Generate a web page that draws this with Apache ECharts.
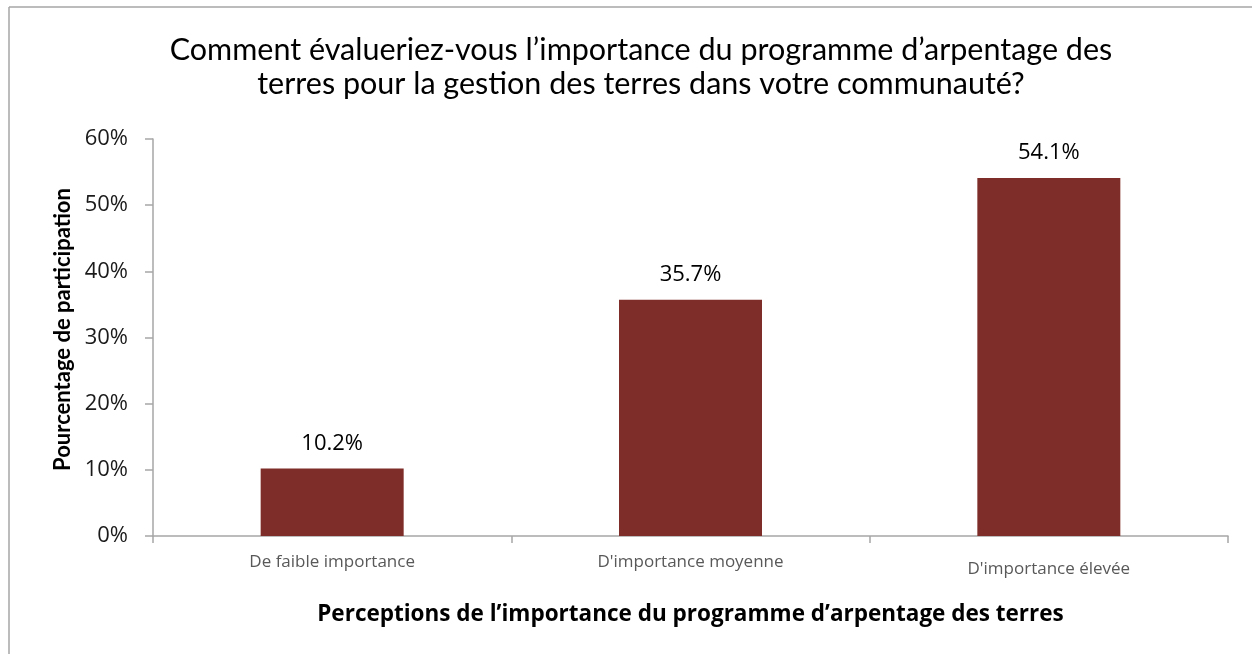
<!DOCTYPE html>
<html>
<head>
<meta charset="utf-8">
<script src="https://cdn.jsdelivr.net/npm/echarts@6/dist/echarts.min.js"></script>
<style>
  html, body { margin: 0; padding: 0; background: #fff; }
  #chart { width: 1252px; height: 654px; }
</style>
</head>
<body>
<div id="chart"></div>
<script>
const categories = ['De faible importance', 'D\'importance moyenne', 'D\'importance élevée']
const percentages = [10.2, 35.7, 54.1]
const yTicks = [0, 10, 20, 30, 40, 50, 60]

const chart = echarts.init(document.getElementById('chart'))

// the last category label sits a bit lower in the original
const categoryData = categories.map((c, i) => i === 2
    ? { value: c, textStyle: { padding: [7, 0, 0, 0] } }
    : c)

chart.setOption({
    animation: false,
    backgroundColor: '#fff',
    title: {
        text: 'Comment évalueriez-vous l\u2019importance du programme d\u2019arpentage des\nterres pour la gestion des terres dans votre communauté?',
        left: 636,
        top: 28,
        textAlign: 'center',
        textStyle: {
            fontFamily: 'Lato',
            fontSize: 30.5,
            fontWeight: 'normal',
            color: '#000',
            lineHeight: 34
        }
    },
    graphic: [
        { type: 'line', shape: { x1: 9, y1: 7, x2: 1252, y2: 7 }, style: { stroke: '#a6a6a6', lineWidth: 1.5 } },
        { type: 'line', shape: { x1: 9, y1: 7, x2: 9, y2: 654 }, style: { stroke: '#a6a6a6', lineWidth: 1.5 } }
    ],
    grid: { left: 153, right: 24, top: 139, bottom: 118 },
    xAxis: {
        type: 'category',
        data: categoryData,
        name: 'Perceptions de l\u2019importance du programme d\u2019arpentage des terres',
        nameLocation: 'middle',
        nameGap: 67,
        nameTextStyle: { fontFamily: 'Open Sans', fontSize: 22.5, fontWeight: 'bold', color: '#000' },
        axisLine: { lineStyle: { color: '#a6a6a6', width: 1.5 } },
        axisTick: { show: true, length: 7, lineStyle: { color: '#a6a6a6', width: 1.5 } },
        axisLabel: { margin: 18, fontFamily: 'Open Sans', fontSize: 17, color: '#595959' }
    },
    yAxis: {
        type: 'value',
        min: yTicks[0],
        max: yTicks[yTicks.length - 1],
        interval: 10,
        name: 'Pourcentage de participation',
        nameLocation: 'middle',
        nameGap: 79,
        nameTextStyle: { fontFamily: 'Lato', fontSize: 22, fontWeight: 'bold', color: '#000', padding: [0, 0, 0, 16] },
        axisLine: { show: true, lineStyle: { color: '#a6a6a6', width: 1.5 } },
        axisTick: { show: true, length: 8, lineStyle: { color: '#a6a6a6', width: 1.5 } },
        splitLine: { show: false },
        axisLabel: { margin: 25, fontFamily: 'Open Sans', fontSize: 22, color: '#1a1a1a', formatter: '{value}%' }
    },
    series: [{
        type: 'bar',
        data: percentages,
        barWidth: 143,
        itemStyle: { color: '#7f2d28' },
        label: {
            show: true,
            position: 'top',
            distance: 14,
            fontFamily: 'Open Sans',
            fontSize: 22,
            color: '#000',
            formatter: p => p.value.toFixed(1) + '%'
        }
    }]
})
</script>
</body>
</html>
